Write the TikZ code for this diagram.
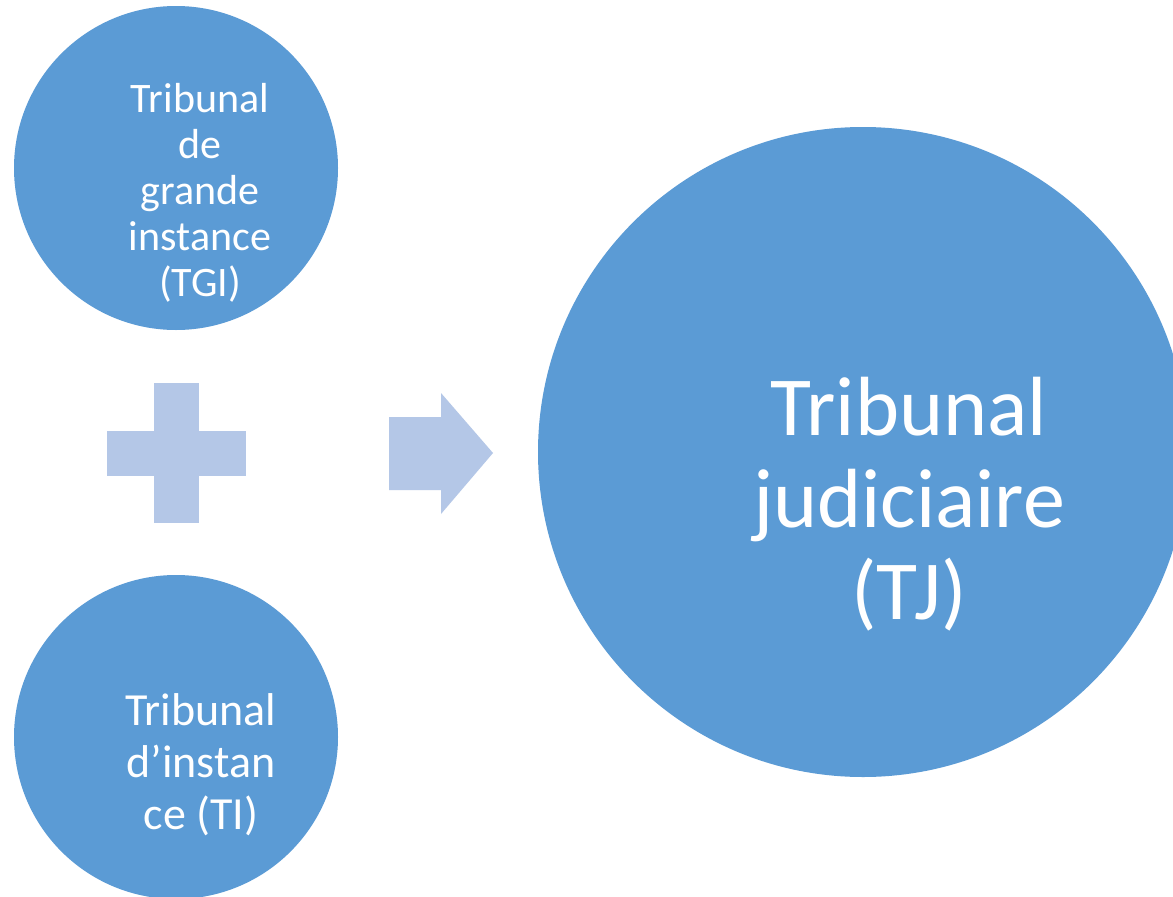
\documentclass[tikz,border=0pt]{standalone}
\usepackage{fontspec}
\setmainfont{Carlito}
\usepackage{xcolor}
\usetikzlibrary{positioning}
\definecolor{bubbleblue}{HTML}{5B9BD5}
\definecolor{signblue}{HTML}{B4C7E7}
\tikzset{
  bubble/.style={circle, fill=bubbleblue, inner sep=0pt},
  bubbletext/.style={text=white, align=center, inner sep=0pt},
}
\begin{document}
\begin{tikzpicture}[x=1pt, y=-1pt]
    \clip (0,0) rectangle (1173,897);
    \fill[white] (0,0) rectangle (1173,897);

    % Circles
    \node[bubble, minimum size=324pt] (tgi) at (176,168) {};
    \node[bubble, minimum size=324pt] (ti) at (176,737) {};
    \node[bubble, minimum size=650pt] (tj) at (863,452) {};

    % Texts
    \node[bubbletext, font=\fontsize{42}{46}\selectfont] (tgitext) at (200,193) {Tribunal\\de\\grande\\instance\\(TGI)};
    \node[bubbletext, font=\fontsize{46}{52}\selectfont] (titext) at (201,765) {Tribunal\\d’instan\\ce (TI)};
    \node[bubbletext, font=\fontsize{84}{92}\selectfont] (tjtext) at (909,504) {Tribunal\\judiciaire\\(TJ)};

    % Plus sign
    \fill[signblue] (154,383) rectangle (199,523);
    \fill[signblue] (107,431) rectangle (246,476);

    % Arrow
    \fill[signblue] (389,417) -- (441,417) -- (441,393) -- (493,453) -- (441,514) -- (441,490) -- (389,490) -- cycle;
\end{tikzpicture}
\end{document}
